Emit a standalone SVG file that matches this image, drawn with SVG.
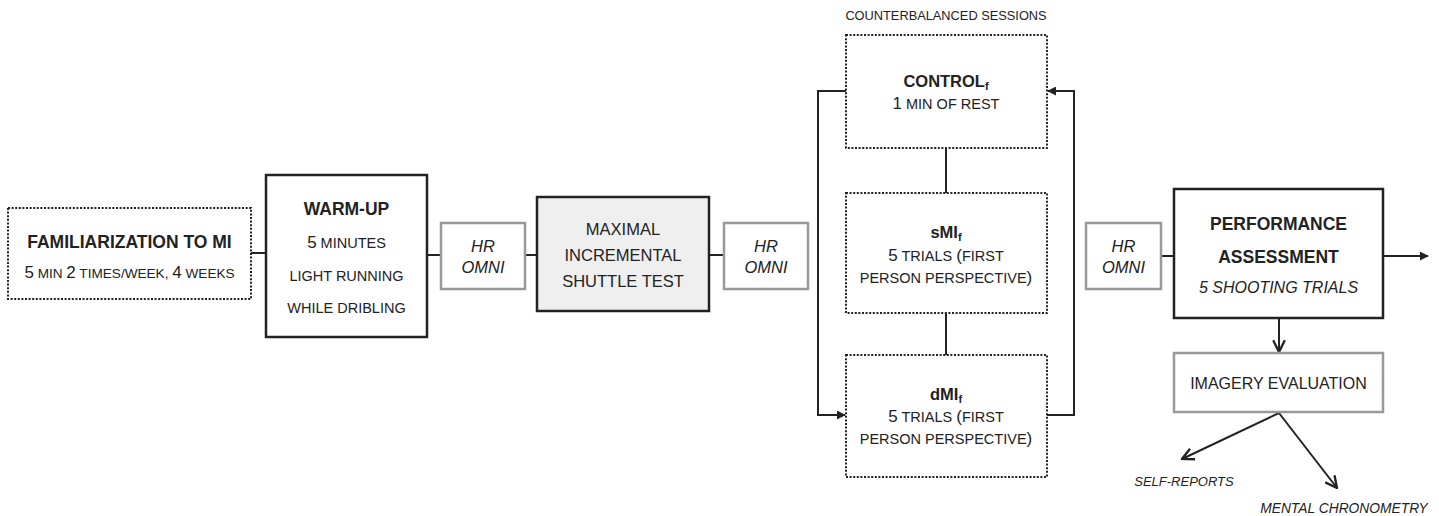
<svg xmlns="http://www.w3.org/2000/svg" width="1439" height="516" viewBox="0 0 1439 516">
<style>
text{font-family:"Liberation Sans",Arial,sans-serif;fill:#222;text-anchor:middle}
.b{font-weight:bold;font-size:17.5px}
.n{font-size:14.5px}
.d{font-size:17px}
.i{font-style:italic;font-size:16.5px}
.sub{font-size:11px;font-weight:bold}
.dot{fill:#fff;stroke:#222;stroke-width:2;stroke-dasharray:2 1.6}
.thick{fill:#fff;stroke:#222;stroke-width:2.5}
.gray{fill:#fff;stroke:#999;stroke-width:2.5}
.ln{fill:none;stroke:#222;stroke-width:2}
</style>
<defs>
<marker id="fa" viewBox="0 0 10 10" refX="9" refY="5" markerWidth="9" markerHeight="9" markerUnits="userSpaceOnUse" orient="auto">
<path d="M0,0 L10,5 L0,10 z" fill="#222"/>
</marker>
<marker id="va" viewBox="0 0 12 12" refX="11" refY="6" markerWidth="14" markerHeight="14" markerUnits="userSpaceOnUse" orient="auto">
<path d="M1,1 L11,6 L1,11" fill="none" stroke="#222" stroke-width="2"/>
</marker>
</defs>
<text x="946" y="20" style="font-size:12.8px">COUNTERBALANCED SESSIONS</text>
<g id="connectors">
<line class="ln" x1="251" y1="253" x2="266" y2="253"/>
<line class="ln" x1="427" y1="255" x2="441" y2="255"/>
<line class="ln" x1="525" y1="255" x2="537" y2="255"/>
<line class="ln" x1="709" y1="255" x2="724" y2="255"/>
<path class="ln" d="M846,91 H818 V415 H845" marker-end="url(#fa)"/>
<path class="ln" d="M1047,415 H1074 V91 H1048" marker-end="url(#fa)"/>
<line class="ln" x1="946" y1="148" x2="946" y2="193"/>
<line class="ln" x1="946" y1="313" x2="946" y2="355"/>
<line class="ln" x1="1161" y1="256" x2="1174" y2="256"/>
<line class="ln" x1="1383" y1="256" x2="1428" y2="256" marker-end="url(#fa)"/>
<line class="ln" x1="1279" y1="318" x2="1279" y2="352" marker-end="url(#va)"/>
<line class="ln" x1="1279" y1="413" x2="1182" y2="459" marker-end="url(#va)"/>
<line class="ln" x1="1279" y1="413" x2="1337" y2="488" marker-end="url(#va)"/>
</g>
<g id="familiarization">
<rect class="dot" x="8" y="208" width="243" height="91"/>
<text x="129.5" y="248" class="b">FAMILIARIZATION TO MI</text>
<text x="129.5" y="278"><tspan class="d">5</tspan><tspan style="font-size:13.6px"> MIN </tspan><tspan class="d">2</tspan><tspan style="font-size:13.6px"> TIMES/WEEK, </tspan><tspan class="d">4</tspan><tspan style="font-size:13.6px"> WEEKS</tspan></text>
</g>
<g id="warmup">
<rect class="thick" x="266" y="175" width="161" height="162"/>
<text x="346.5" y="215" class="b">WARM-UP</text>
<text x="346.5" y="248"><tspan class="d">5</tspan><tspan class="n"> MINUTES</tspan></text>
<text x="346.5" y="281" class="n">LIGHT RUNNING</text>
<text x="346.5" y="313" class="n">WHILE DRIBLING</text>
</g>
<g id="hr1">
<rect class="gray" x="441" y="223" width="84" height="66"/>
<text x="483" y="252" class="i">HR</text>
<text x="483" y="273" class="i">OMNI</text>
</g>
<g id="maximal">
<rect x="537" y="197" width="172" height="114" fill="#efefef" stroke="#222" stroke-width="2.5"/>
<text x="623" y="235" style="font-size:16.5px">MAXIMAL</text>
<text x="623" y="261" style="font-size:16.5px">INCREMENTAL</text>
<text x="623" y="287" style="font-size:16.5px">SHUTTLE TEST</text>
</g>
<g id="hr2">
<rect class="gray" x="724" y="223" width="84" height="66"/>
<text x="766" y="252" class="i">HR</text>
<text x="766" y="273" class="i">OMNI</text>
</g>
<g id="control">
<rect class="dot" x="846" y="35" width="201" height="113"/>
<text x="946" y="87"><tspan class="b" style="font-size:16.5px">CONTROL</tspan><tspan class="sub" dy="3">f</tspan></text>
<text x="946" y="109"><tspan class="d">1</tspan><tspan class="n"> MIN OF REST</tspan></text>
</g>
<g id="smi">
<rect class="dot" x="846" y="193" width="201" height="120"/>
<text x="946" y="238"><tspan class="b" style="font-size:16.5px">sMI</tspan><tspan class="sub" dy="3">f</tspan></text>
<text x="946" y="261"><tspan class="d">5</tspan><tspan class="n"> TRIALS </tspan><tspan class="d">(</tspan><tspan class="n">FIRST</tspan></text>
<text x="946" y="283"><tspan class="n">PERSON PERSPECTIVE</tspan><tspan class="d">)</tspan></text>
</g>
<g id="dmi">
<rect class="dot" x="846" y="355" width="201" height="122"/>
<text x="946" y="400"><tspan class="b" style="font-size:16.5px">dMI</tspan><tspan class="sub" dy="3">f</tspan></text>
<text x="946" y="422"><tspan class="d">5</tspan><tspan class="n"> TRIALS </tspan><tspan class="d">(</tspan><tspan class="n">FIRST</tspan></text>
<text x="946" y="444"><tspan class="n">PERSON PERSPECTIVE</tspan><tspan class="d">)</tspan></text>
</g>
<g id="hr3">
<rect class="gray" x="1086" y="223" width="75" height="66"/>
<text x="1123.5" y="252" class="i">HR</text>
<text x="1123.5" y="273" class="i">OMNI</text>
</g>
<g id="performance">
<rect class="thick" x="1174" y="189" width="209" height="129"/>
<text x="1278.5" y="230" class="b">PERFORMANCE</text>
<text x="1278.5" y="263" class="b">ASSESSMENT</text>
<text x="1278.5" y="293" style="font-size:16px;font-style:italic">5 SHOOTING TRIALS</text>
</g>
<g id="imagery">
<rect class="gray" x="1174" y="353" width="209" height="59"/>
<text x="1278.5" y="389" style="font-size:16px">IMAGERY EVALUATION</text>
</g>
<g id="labels">
<text x="1184" y="486" style="font-size:13px;font-style:italic">SELF-REPORTS</text>
<text x="1344" y="513" style="font-size:13.8px;font-style:italic">MENTAL CHRONOMETRY</text>
</g>
</svg>
